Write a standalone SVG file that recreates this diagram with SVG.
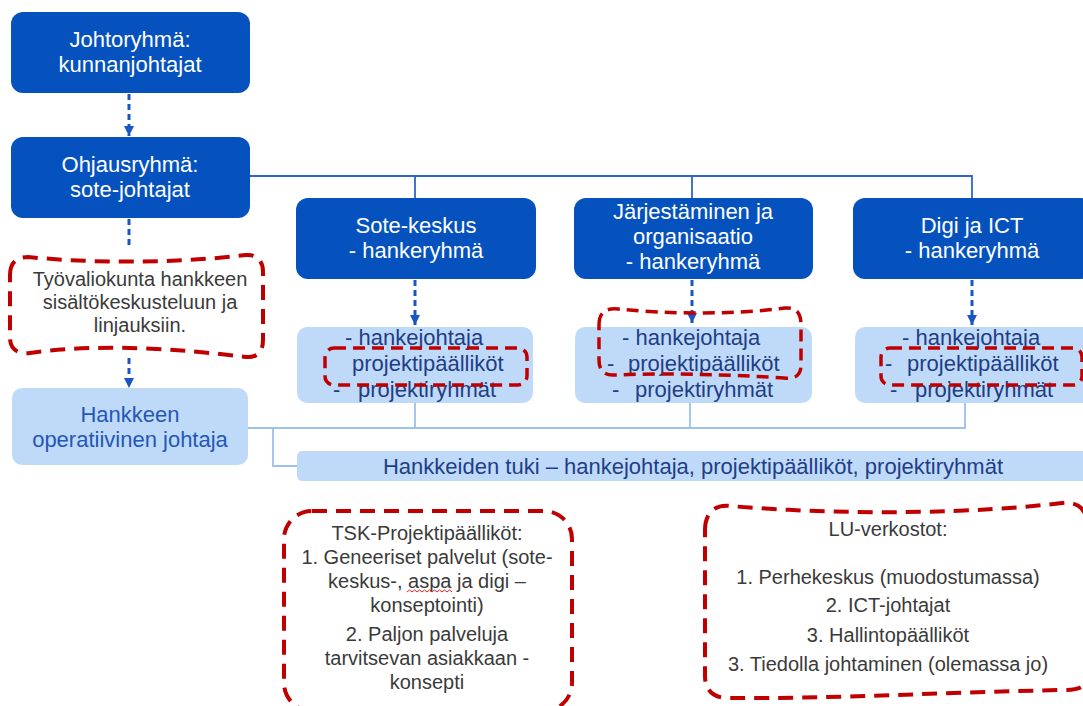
<svg xmlns="http://www.w3.org/2000/svg" width="1083" height="706" viewBox="0 0 1083 706">
<style>
.dark{fill:#0552bf}
.light{fill:#bfdaf8}
.wt{fill:#ffffff;font-family:"Liberation Sans",Arial,sans-serif;font-size:22px;text-anchor:middle}
.lt{fill:#1f3e86;font-family:"Liberation Sans",Arial,sans-serif;font-size:22px}
.bt{fill:#2457b6;font-family:"Liberation Sans",Arial,sans-serif;font-size:22px;text-anchor:middle}
.gt{fill:#3a3a3a;font-family:"Liberation Sans",Arial,sans-serif;font-size:20px;text-anchor:middle}
.red{fill:none;stroke:#c00000;stroke-width:4;stroke-dasharray:15 9;stroke-linejoin:round}
.reds{fill:none;stroke:#c00000;stroke-width:3.5;stroke-dasharray:12 7}
.dash{fill:none;stroke:#1a56c2;stroke-width:3;stroke-dasharray:6 4}
.solid{fill:none;stroke:#2f66cc;stroke-width:1.8}
.soft{fill:none;stroke:#9cc0f0;stroke-width:1.8}
</style>
<defs>
<marker id="ah" viewBox="0 0 10 10" refX="10" refY="5" markerWidth="11" markerHeight="10" markerUnits="userSpaceOnUse" orient="auto">
<path d="M0,0 L10,5 L0,10 z" fill="#1a56c2"/>
</marker>
</defs>
<rect width="1083" height="706" fill="#ffffff"/>

<g id="connectors">
<path class="solid" d="M250,176 H972 V198 M415,176 V198 M692,176 V198"/>
<path class="soft" d="M248,428 H965 V403 M415,428 V403 M690,428 V403 M273,428 V466 H297"/>
<line class="dash" x1="129" y1="94" x2="129" y2="136" marker-end="url(#ah)"/>
<line class="dash" x1="129" y1="219" x2="129" y2="247"/>
<line class="dash" x1="129" y1="358" x2="129" y2="388" marker-end="url(#ah)"/>
<line class="dash" x1="415" y1="280" x2="415" y2="325" marker-end="url(#ah)"/>
<line class="dash" x1="692" y1="280" x2="692" y2="323" marker-end="url(#ah)"/>
<line class="dash" x1="972" y1="280" x2="972" y2="325" marker-end="url(#ah)"/>
</g>

<g id="johtoryhma">
<rect class="dark" x="11" y="12" width="239" height="81" rx="12"/>
<text class="wt" x="130" y="47">Johtoryhmä:</text>
<text class="wt" x="130" y="72">kunnanjohtajat</text>
</g>

<g id="ohjausryhma">
<rect class="dark" x="11" y="137" width="239" height="81" rx="12"/>
<text class="wt" x="130" y="172">Ohjausryhmä:</text>
<text class="wt" x="130" y="197">sote-johtajat</text>
</g>

<g id="tyovaliokunta">
<path class="red" d="M10,275 C10,263 16,257 28,257 C90,263 170,264 246,255 C257,254 263,261 263,272 L263,340 C263,352 257,358 246,357 C180,349 100,343 30,353 C17,355 10,348 10,338 Z"/>
<text class="gt" x="140" y="286">Työvaliokunta hankkeen</text>
<text class="gt" x="140" y="309">sisältökeskusteluun ja</text>
<text class="gt" x="140" y="332">linjauksiin.</text>
</g>

<g id="operatiivinen">
<rect class="light" x="12" y="388" width="236" height="77" rx="10"/>
<text class="bt" x="130" y="422">Hankkeen</text>
<text class="bt" x="130" y="447">operatiivinen johtaja</text>
</g>

<g id="sote-keskus">
<rect class="dark" x="296" y="198" width="240" height="81" rx="12"/>
<text class="wt" x="416" y="233">Sote-keskus</text>
<text class="wt" x="416" y="258">- hankeryhmä</text>
</g>

<g id="jarjestaminen">
<rect class="dark" x="574" y="198" width="239" height="81" rx="12"/>
<text class="wt" x="693" y="219">Järjestäminen ja</text>
<text class="wt" x="693" y="244">organisaatio</text>
<text class="wt" x="693" y="269">- hankeryhmä</text>
</g>

<g id="digi">
<rect class="dark" x="853" y="198" width="240" height="81" rx="12"/>
<text class="wt" x="972" y="233">Digi ja ICT</text>
<text class="wt" x="972" y="258">- hankeryhmä</text>
</g>

<g id="sote-tiimi">
<rect class="light" x="297" y="327" width="236" height="76" rx="10"/>
<text class="lt"><tspan x="345" y="345">- hankejohtaja</tspan><tspan x="352" y="371">projektipäälliköt</tspan><tspan x="333" y="397">-</tspan><tspan x="358" y="397">projektiryhmät</tspan></text>
<rect class="reds" x="325" y="348" width="202" height="37" rx="9"/>
</g>

<g id="jarjestaminen-tiimi">
<rect class="light" x="575" y="327" width="237" height="76" rx="10"/>
<text class="lt"><tspan x="622" y="345">- hankejohtaja</tspan><tspan x="607" y="371">-</tspan><tspan x="628" y="371">projektipäälliköt</tspan><tspan x="612" y="397">-</tspan><tspan x="635" y="397">projektiryhmät</tspan></text>
<path class="reds" d="M599,325 C599,312 606,308 618,309 C670,314 730,315 785,308 C797,307 801,314 801,325 L801,365 C801,376 795,379 784,378 C720,374 660,373 615,375 C604,376 599,370 599,360 Z"/>
</g>

<g id="digi-tiimi">
<rect class="light" x="855" y="327" width="240" height="76" rx="10"/>
<text class="lt"><tspan x="902" y="345">- hankejohtaja</tspan><tspan x="885" y="371">-</tspan><tspan x="907" y="371">projektipäälliköt</tspan><tspan x="890" y="397">-</tspan><tspan x="915" y="397">projektiryhmät</tspan></text>
<rect class="reds" x="881" y="348" width="201" height="37" rx="9"/>
</g>

<g id="hankkeiden-tuki">
<rect class="light" x="297" y="451" width="800" height="30" rx="5"/>
<text class="lt" x="693" y="474" text-anchor="middle">Hankkeiden tuki – hankejohtaja, projektipäälliköt, projektiryhmät</text>
</g>

<g id="tsk">
<rect class="red" x="284" y="511" width="288" height="200" rx="28"/>
<text class="gt" x="427" y="540">TSK-Projektipäälliköt:</text>
<text class="gt" x="427" y="564">1. Geneeriset palvelut (sote-</text>
<text class="gt" x="427" y="588">keskus-, aspa ja digi –</text>
<text class="gt" x="427" y="612">konseptointi)</text>
<text class="gt" x="427" y="641">2. Paljon palveluja</text>
<text class="gt" x="427" y="665">tarvitsevan asiakkaan -</text>
<text class="gt" x="427" y="689">konsepti</text>
<path d="M407,592 l2.5,-2 l2.5,2 l2.5,-2 l2.5,2 l2.5,-2 l2.5,2 l2.5,-2 l2.5,2 l2.5,-2 l2.5,2 l2.5,-2 l2.5,2 l2.5,-2 l2.5,2 l2.5,-2 l2.5,2 l2.5,-2 l2.5,2" fill="none" stroke="#e02020" stroke-width="1"/>
</g>

<g id="lu-verkostot">
<path class="red" d="M705,530 C705,514 714,504 730,506 C850,516 980,513 1062,503 C1078,501 1087,510 1087,524 L1087,675 C1087,688 1078,690 1064,690 C950,692 830,699 728,698 C713,698 705,690 705,676 Z"/>
<text class="gt" x="888" y="536">LU-verkostot:</text>
<text class="gt" x="888" y="584">1. Perhekeskus (muodostumassa)</text>
<text class="gt" x="888" y="612">2. ICT-johtajat</text>
<text class="gt" x="888" y="642">3. Hallintopäälliköt</text>
<text class="gt" x="888" y="671">3. Tiedolla johtaminen (olemassa jo)</text>
</g>
</svg>
